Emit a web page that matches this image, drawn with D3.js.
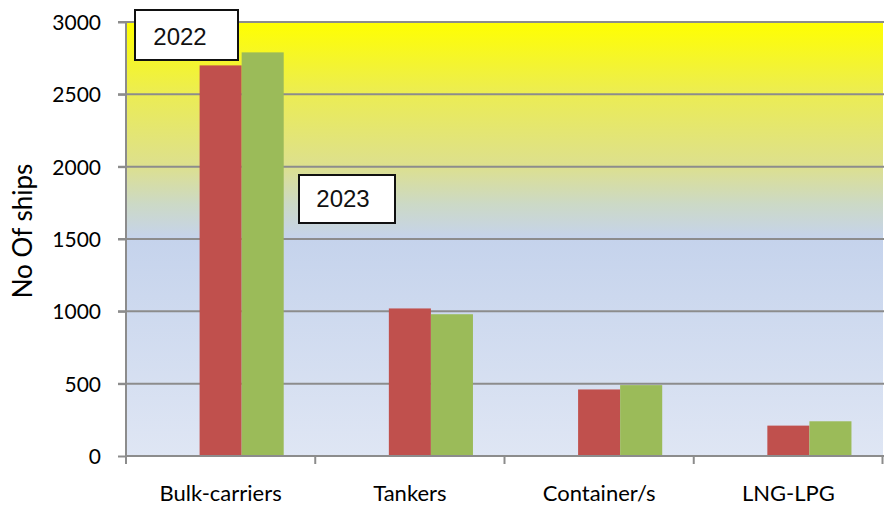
<!DOCTYPE html>
<html><head><meta charset="utf-8">
<script src="https://cdn.jsdelivr.net/npm/d3@7"></script>
<style>html,body{margin:0;padding:0;background:#fff;}svg{display:block;}</style>
</head><body>
<svg id="chart" width="884" height="508"></svg>
<script>
const categories = ["Bulk-carriers", "Tankers", "Container/s", "LNG-LPG"];
const series = ["2022", "2023"];
const values2022 = [2700, 1020, 460, 210];
const values2023 = [2790, 980, 490, 240];
const yTicks = [0, 500, 1000, 1500, 2000, 2500, 3000];
const colors = ["#C0504D", "#9BBB59"];

const svg = d3.select("#chart");
const W = 884, H = 508;
const m = {left: 126, right: 1, top: 22, bottom: 52};
const x0 = d3.scaleBand().domain(categories).range([m.left, W - m.right]).paddingInner(0).paddingOuter(0);
// Excel-like slot layout: 3 slots per category, first slot empty, gap width 150%
const x1 = d3.scaleBand().domain([0, 1, 2]).range([0, x0.bandwidth()]).paddingInner(0).paddingOuter(0.75);
const y = d3.scaleLinear().domain([0, 3000]).range([H - m.bottom, m.top]);

const defs = svg.append("defs");
const grad = defs.append("linearGradient").attr("id", "bg").attr("x1", 0).attr("y1", 0).attr("x2", 0).attr("y2", 1);
[[0, "#ffff00"], [0.17, "#ebec55"], [0.33, "#dde08d"], [0.42, "#ccd9c6"], [0.5, "#c5d3ec"], [1, "#dfe6f4"]]
  .forEach(([o, c]) => grad.append("stop").attr("offset", o).attr("stop-color", c));

svg.append("rect").attr("x", m.left).attr("y", y(3000)).attr("width", x0.range()[1] - m.left)
  .attr("height", y(0) - y(3000)).attr("fill", "url(#bg)");

// gridlines
svg.append("g").selectAll("line").data(yTicks.filter(d => d > 0)).join("line")
  .attr("x1", m.left - 8).attr("x2", W).attr("y1", d => y(d)).attr("y2", d => y(d))
  .attr("stroke", "#8c8c8c").attr("stroke-width", 2);

// bars
const data = categories.map((c, i) => ({c, vals: [values2022[i], values2023[i]]}));
const g = svg.append("g").selectAll("g").data(data).join("g")
  .attr("transform", d => `translate(${x0(d.c)},0)`);
g.selectAll("rect").data(d => d.vals.map((v, j) => ({v, j}))).join("rect")
  .attr("x", d => x1(d.j + 1)).attr("width", x1.bandwidth())
  .attr("y", d => y(d.v)).attr("height", d => y(0) - y(d.v))
  .attr("fill", d => colors[d.j]);

// y axis
const yAxis = svg.append("g").attr("transform", `translate(${m.left},0)`)
  .call(d3.axisLeft(y).tickValues(yTicks).tickFormat(d3.format("d")).tickSize(8).tickPadding(17));
yAxis.select(".domain").attr("stroke", "#8c8c8c").attr("stroke-width", 2).attr("d", `M0,${y(3000)}V${y(0) + 7}`);
yAxis.selectAll(".tick line").attr("stroke", "#8c8c8c").attr("stroke-width", 2);
yAxis.selectAll(".tick text").attr("font-family", "Lato, sans-serif").attr("font-size", 21).attr("fill", "#000").attr("dy", "0.36em");

// x axis
const xAxisG = svg.append("g");
xAxisG.append("line").attr("x1", m.left).attr("x2", W).attr("y1", y(0)).attr("y2", y(0))
  .attr("stroke", "#8c8c8c").attr("stroke-width", 2);
const bounds = categories.map(c => x0(c)).concat([x0.range()[1] - 0.5]);
xAxisG.selectAll("line.t").data(bounds).join("line").attr("class", "t")
  .attr("x1", d => d).attr("x2", d => d).attr("y1", y(0)).attr("y2", y(0) + 8)
  .attr("stroke", "#8c8c8c").attr("stroke-width", 2);
xAxisG.selectAll("text").data(categories).join("text")
  .attr("x", d => x0(d) + x0.bandwidth() / 2).attr("y", 501)
  .attr("text-anchor", "middle").attr("font-family", "Lato, sans-serif").attr("font-size", 22)
  .attr("fill", "#000").text(d => d);

// y title
svg.append("text").attr("transform", "translate(32,231) rotate(-90)")
  .attr("text-anchor", "middle").attr("font-family", "Lato, sans-serif").attr("font-size", 26)
  .attr("fill", "#000").text("No Of ships");

// label boxes
const boxes = [{t: series[0], x: 135, y: 10, w: 103, h: 50, tx: 180, ty: 45},
               {t: series[1], x: 299, y: 175, w: 96, h: 48, tx: 343, ty: 207}];
const bg = svg.append("g").selectAll("g").data(boxes).join("g");
bg.append("rect").attr("x", d => d.x).attr("y", d => d.y).attr("width", d => d.w).attr("height", d => d.h)
  .attr("fill", "#fff").attr("stroke", "#111").attr("stroke-width", 2);
bg.append("text").attr("x", d => d.tx).attr("y", d => d.ty)
  .attr("text-anchor", "middle").attr("font-family", "Liberation Sans, Arial, sans-serif").attr("font-size", 24)
  .attr("fill", "#111").text(d => d.t);
</script>
</body></html>
